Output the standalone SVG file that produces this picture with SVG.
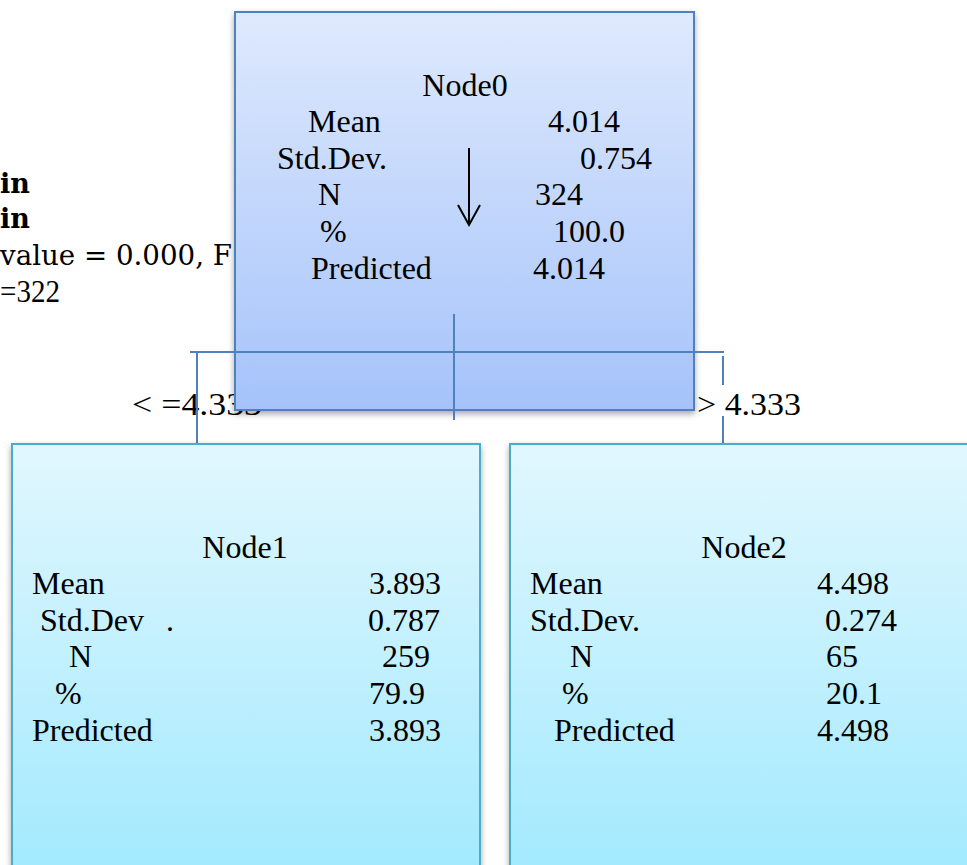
<svg xmlns="http://www.w3.org/2000/svg" width="967" height="865" viewBox="0 0 967 865">
  <defs>
    <linearGradient id="gBlue" x1="0" y1="0" x2="0" y2="1">
      <stop offset="0" stop-color="#dee9fd"/>
      <stop offset="1" stop-color="#a5c3fa"/>
    </linearGradient>
    <linearGradient id="gCyan" x1="0" y1="0" x2="0" y2="1">
      <stop offset="0" stop-color="#e1f7fe"/>
      <stop offset="1" stop-color="#a1e9fe"/>
    </linearGradient>
    <filter id="shadow" x="-5%" y="-5%" width="110%" height="110%">
      <feDropShadow dx="0" dy="3" stdDeviation="3" flood-color="#000" flood-opacity="0.35"/>
    </filter>
  </defs>
  <style>
    text { font-family: "Liberation Serif", "Times New Roman", serif; font-size: 32px; fill: #000; }
    .side { font-family: "DejaVu Serif", "Liberation Serif", serif; font-size: 27px; }
    .side2 { font-family: "Liberation Serif", "Times New Roman", serif; font-size: 31px; }
    .bold { font-weight: bold; }
    .cond { font-size: 32px; }
    .conn { stroke: #4f81bd; stroke-width: 2; fill: none; }
    .box0 { fill: url(#gBlue); stroke: #4f81bd; stroke-width: 2; filter: url(#shadow); }
    .box1 { fill: url(#gCyan); stroke: #4bacc6; stroke-width: 2; filter: url(#shadow); }
  </style>

  <!-- side annotation, clipped at the left edge -->
  <g id="annotation">
    <text class="side bold" x="0" y="193">in</text>
    <text class="side bold" x="0" y="228">in</text>
    <text class="side" x="0" y="265" textLength="232" lengthAdjust="spacingAndGlyphs">value = 0.000, F</text>
    <text class="side2" x="0" y="302" textLength="60" lengthAdjust="spacingAndGlyphs">=322</text>
  </g>

  <!-- split condition labels -->
  <g id="labels">
    <text class="cond" x="132" y="415" textLength="130" lengthAdjust="spacingAndGlyphs">&lt; =4.333</text>
    <text class="cond" x="697" y="415" textLength="104" lengthAdjust="spacingAndGlyphs">&gt; 4.333</text>
  </g>

  <!-- root node -->
  <g id="node0">
    <rect class="box0" x="235" y="12" width="459" height="398"/>
    <text x="465" y="96" text-anchor="middle">Node0</text>
    <text x="308" y="132">Mean</text>
    <text x="548" y="132">4.014</text>
    <text x="277" y="169">Std.Dev.</text>
    <text x="580" y="169">0.754</text>
    <text x="318" y="205">N</text>
    <text x="535" y="205">324</text>
    <text x="320" y="242">%</text>
    <text x="553" y="242">100.0</text>
    <text x="311" y="279">Predicted</text>
    <text x="533" y="279">4.014</text>
    <path d="M469 148 V225 M458 205 L469 225 L480 205" stroke="#000" stroke-width="2" fill="none"/>
  </g>

  <!-- connectors -->
  <g id="connectors">
    <path class="conn" d="M190 352 H724"/>
    <path class="conn" d="M454 314 V420"/>
    <path class="conn" d="M197 352 V444"/>
    <path class="conn" d="M723 356 V385 M723 416 V444"/>
  </g>

  <!-- left child -->
  <g id="node1">
    <rect class="box1" x="12" y="444" width="468" height="440"/>
    <text x="245" y="558" text-anchor="middle">Node1</text>
    <text x="32" y="594">Mean</text>
    <text x="369" y="594">3.893</text>
    <text x="40" y="631">Std.Dev</text>
    <text x="166" y="631">.</text>
    <text x="368" y="631">0.787</text>
    <text x="69" y="667">N</text>
    <text x="382" y="667">259</text>
    <text x="55" y="704">%</text>
    <text x="369" y="704">79.9</text>
    <text x="32" y="741">Predicted</text>
    <text x="369" y="741">3.893</text>
  </g>

  <!-- right child -->
  <g id="node2">
    <rect class="box1" x="510" y="444" width="480" height="440"/>
    <text x="744" y="558" text-anchor="middle">Node2</text>
    <text x="530" y="594">Mean</text>
    <text x="817" y="594">4.498</text>
    <text x="530" y="631">Std.Dev.</text>
    <text x="825" y="631">0.274</text>
    <text x="570" y="667">N</text>
    <text x="826" y="667">65</text>
    <text x="562" y="704">%</text>
    <text x="826" y="704">20.1</text>
    <text x="554" y="741">Predicted</text>
    <text x="817" y="741">4.498</text>
  </g>
</svg>
